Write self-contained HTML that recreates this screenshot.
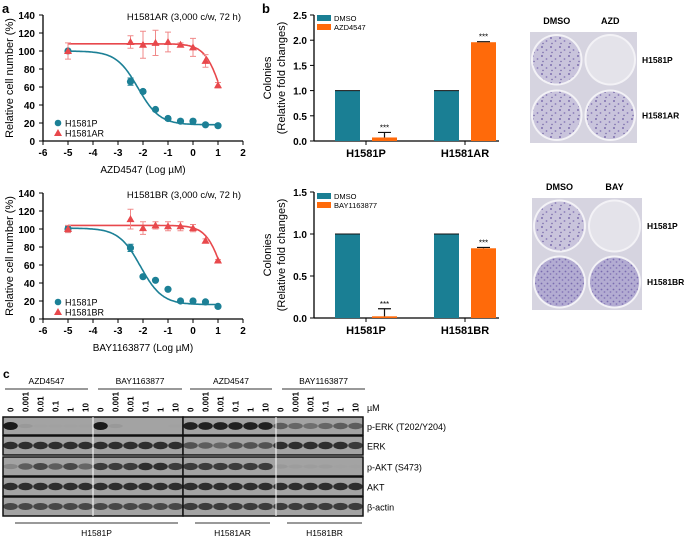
<!DOCTYPE html>
<html><head><meta charset="utf-8"><style>
html,body{margin:0;padding:0;background:#fff}
svg{display:block;font-family:"Liberation Sans",Arial,sans-serif}
</style></head><body>
<svg id="s" width="685" height="537" viewBox="0 0 685 537">
<defs>
<pattern id="spk" width="9" height="9" patternUnits="userSpaceOnUse">
<rect width="9" height="9" fill="#c9c4dc"/>
<circle cx="2" cy="2" r="1" fill="#7d6fae"/><circle cx="6.5" cy="5" r="0.9" fill="#8a7cb8"/><circle cx="3" cy="7.5" r="0.7" fill="#6e60a2"/>
</pattern>
<pattern id="spk2" width="6" height="6" patternUnits="userSpaceOnUse">
<rect width="6" height="6" fill="#b3acd2"/>
<circle cx="1.5" cy="1.5" r="0.9" fill="#7a6cb0"/><circle cx="4.5" cy="4" r="0.9" fill="#8778b8"/>
</pattern>
</defs>
<text x="2" y="13" font-size="13" font-weight="bold">a</text>
<text x="262" y="13" font-size="13" font-weight="bold">b</text>
<text x="3" y="378" font-size="12" font-weight="bold">c</text>
</svg>
<script>
const NS='http://www.w3.org/2000/svg';
const S=document.getElementById('s');
function mk(t,a,p){const e=document.createElementNS(NS,t);for(const k in a)e.setAttribute(k,a[k]);(p||S).appendChild(e);return e;}
function tx(x,y,s,a,p){const e=mk('text',Object.assign({x:x,y:y},a||{}),p);e.textContent=s;return e;}

// ---------- Panel a data ----------
const doseX=[-5,-2.5,-2,-1.5,-1,-0.5,0,0.5,1];
const aTopP=[100,66,55,35,25,22,22,18,17];
const aTopPErr=[2,4,2,1,2,1,2,1,1];
const aTopR=[100,110,107,109,110,107,104,89,62];
const aTopRErr=[9,7,15,14,11,2,10,7,3];
const aBotP=[100,79,47,43,33,20,20,19,14];
const aBotPErr=[3,4,1,1,1,2,2,1,1];
const aBotR=[100,111,101,104,103,103,101,87,65];
const aBotRErr=[4,11,7,4,5,5,4,2,1];
const xTicks=[-6,-5,-4,-3,-2,-1,0,1,2];
const yTicksA=[0,20,40,60,80,100,120,140];
// curve model params [top,bottom,logIC50,hill]
const fitTopP=[100,18,-2.2,1.0], fitTopR=[108,0,1.15,1.3];
const fitBotP=[101,16,-2.1,1.0], fitBotR=[104,0,1.2,1.3];

function lineChart(o){
  const g=mk('g',{});
  
  
  const X=v=>43+(v+6)*25, Y=v=>o.y0-v*o.ys;
  mk('line',{x1:43,y1:Y(0),x2:243,y2:Y(0),stroke:'#000','stroke-width':1.3},g);
  mk('line',{x1:43,y1:Y(0),x2:43,y2:Y(140),stroke:'#000','stroke-width':1.3},g);
  xTicks.forEach(t=>{mk('line',{x1:X(t),y1:Y(0),x2:X(t),y2:Y(0)+4,stroke:'#000'},g);
    const e=tx(X(t),Y(0)+15,String(t),{'font-size':10,'font-weight':'bold','text-anchor':'middle'},g);
    });
  yTicksA.forEach(t=>{mk('line',{x1:39,y1:Y(t),x2:43,y2:Y(t),stroke:'#000'},g);
    const e=tx(35,Y(t)+4,String(t),{'font-size':10,'font-weight':'bold','text-anchor':'end'},g);
    });
  const yl=tx(0,0,'Relative cell number (%)',{'font-size':11,'text-anchor':'middle',transform:`translate(13,${Y(70)}) rotate(-90)`},g);
  
  const xl=tx(143,Y(0)+32,o.xlabel,{'font-size':10,'text-anchor':'middle'},g);
  
  const tl=tx(241,Y(140)+5,o.title,{'font-size':9.5,'text-anchor':'end'},g);
  
  const series=[[o.p,o.pe,o.fp,'#1c8096','c'],[o.r,o.re,o.fr,'#e8484c','t']];
  series.forEach(([v,er,f,c,sh])=>{
    let d='';for(let x=-5;x<=1.001;x+=0.05){const y=f[1]+(f[0]-f[1])/(1+Math.pow(10,f[3]*(x-f[2])));d+=(d?'L':'M')+X(x).toFixed(1)+','+Y(y).toFixed(1);}
    const cu=mk('path',{d:d,fill:'none',stroke:c,'stroke-width':1.6},g);
    
    doseX.forEach((x,i)=>{
      const px=X(x),py=Y(v[i]),e=er[i]*o.ys;
      mk('path',{d:`M${px},${py-e}V${py+e}M${px-3},${py-e}h6M${px-3},${py+e}h6`,stroke:sh=='t'?'#f08a8a':c,'stroke-width':1,fill:'none'},g);
      let m;
      if(sh=='c')m=mk('circle',{cx:px,cy:py,r:3.6,fill:c},g);
      else m=mk('path',{d:`M${px},${py-4}L${px+4},${py+3}L${px-4},${py+3}Z`,fill:c},g);
      
    });
  });
  const l1=mk('circle',{cx:58,cy:o.ly,r:3.3,fill:'#1c8096'},g);
  
  tx(65,o.ly+3.5,'H1581P',{'font-size':9},g);
  const y2=o.ly+10;
  const l2=mk('path',{d:`M58,${y2-4}L62,${y2+3}L54,${y2+3}Z`,fill:'#e8484c'},g);
  
  tx(65,y2+3.5,o.rname,{'font-size':9},g);
}
lineChart({name:'chart-a-top',y0:141,ys:0.9,p:aTopP,pe:aTopPErr,r:aTopR,re:aTopRErr,fp:fitTopP,fr:fitTopR,xlabel:'AZD4547 (Log µM)',title:'H1581AR (3,000 c/w, 72 h)',ly:123,rname:'H1581AR'});
lineChart({name:'chart-a-bottom',y0:319,ys:0.9,p:aBotP,pe:aBotPErr,r:aBotR,re:aBotRErr,fp:fitBotP,fr:fitBotR,xlabel:'BAY1163877  (Log µM)',title:'H1581BR (3,000 c/w, 72 h)',ly:302,rname:'H1581BR'});

// ---------- Panel b data ----------
const bCatsTop=['H1581P','H1581AR'];
const bDmsoTop=[1.0,1.0];
const bDrugTop=[0.07,1.96];
const bDrugTopErr=[0.1,0.01];
const bTicksTop=['0.0','0.5','1.0','1.5','2.0','2.5'];
const bCatsBot=['H1581P','H1581BR'];
const bDmsoBot=[1.0,1.0];
const bDrugBot=[0.02,0.83];
const bDrugBotErr=[0.09,0.01];
const bTicksBot=['0.0','0.5','1.0','1.5'];

function barChart(o){
  const g=mk('g',{});
  
  const Y=v=>o.y0-v*o.ys;
  const top=Y(parseFloat(o.ticks[o.ticks.length-1]));
  mk('line',{x1:314,y1:Y(0),x2:499,y2:Y(0),stroke:'#000','stroke-width':1.3},g);
  mk('line',{x1:314,y1:Y(0),x2:314,y2:top,stroke:'#000','stroke-width':1.3},g);
  o.ticks.forEach(t=>{const v=parseFloat(t);mk('line',{x1:310,y1:Y(v),x2:314,y2:Y(v),stroke:'#000'},g);
    const e=tx(307,Y(v)+4,t,{'font-size':10,'font-weight':'bold','text-anchor':'end'},g);
    });
  const cy=(Y(0)+top)/2;
  const t1=tx(0,0,'Colonies',{'font-size':11,'text-anchor':'middle',transform:`translate(271,${cy}) rotate(-90)`},g);
  
  tx(0,0,'(Relative fold changes)',{'font-size':11,'text-anchor':'middle',transform:`translate(285,${cy}) rotate(-90)`},g);
  o.cats.forEach((c,i)=>{
    const cx=366+i*99;
    mk('line',{x1:cx,y1:Y(0),x2:cx,y2:Y(0)+4,stroke:'#000'},g);
    const e=tx(cx,Y(0)+16,c,{'font-size':11,'font-weight':'bold','text-anchor':'middle'},g);
    
    const b1=mk('rect',{x:cx-31,y:Y(o.d[i]),width:25,height:Y(0)-Y(o.d[i]),fill:'#1a7f94'},g);
    
    mk('line',{x1:cx-31,y1:Y(o.d[i]),x2:cx-6,y2:Y(o.d[i]),stroke:'#111','stroke-width':1},g);
    const b2=mk('rect',{x:cx+6,y:Y(o.v[i]),width:25,height:Y(0)-Y(o.v[i]),fill:'#ff6a0a'},g);
    
    const ey=Y(o.v[i]+o.e[i]);
    mk('path',{d:`M${cx+18.5},${Y(o.v[i])}V${ey}M${cx+12},${ey}h13`,stroke:'#111','stroke-width':1.2,fill:'none'},g);
    tx(cx+18.5,ey-2,'***',{'font-size':8,'text-anchor':'middle'},g);
  });
  const r1=mk('rect',{x:317,y:o.ly-4,width:14,height:6,fill:'#1a7f94'},g);
  
  tx(334,o.ly+2,'DMSO',{'font-size':7.5},g);
  const r2=mk('rect',{x:317,y:o.ly+5,width:14,height:6,fill:'#ff6a0a'},g);
  
  tx(334,o.ly+11,o.drug,{'font-size':7.5},g);
}
barChart({name:'chart-b-top',y0:141,ys:50.4,cats:bCatsTop,d:bDmsoTop,v:bDrugTop,e:bDrugTopErr,ticks:bTicksTop,ly:19,drug:'AZD4547'});
barChart({name:'chart-b-bottom',y0:318,ys:84,cats:bCatsBot,d:bDmsoBot,v:bDrugBot,e:bDrugBotErr,ticks:bTicksBot,ly:197,drug:'BAY1163877'});

// ---------- colony photos ----------
function photos(o){
  const g=mk('g',{});
  
  mk('rect',{x:o.x,y:o.y,width:o.w,height:o.h,fill:'#d6d4e0'},g);
  const cw=o.w/2,ch=o.h/2;
  o.fill.forEach((f,i)=>{
    const cx=o.x+cw*(i%2)+cw/2,cy=o.y+ch*Math.floor(i/2)+ch/2;
    mk('circle',{cx:cx,cy:cy,r:Math.min(cw,ch)/2-1,fill:'#f3f2f6'},g);
    const c=mk('circle',{cx:cx,cy:cy,r:Math.min(cw,ch)/2-3,fill:f},g);
    
  });
  tx(o.x+cw/2,o.y-8,'DMSO',{'font-size':9,'font-weight':'bold','text-anchor':'middle'},g);
  tx(o.x+cw*1.5,o.y-8,o.drug,{'font-size':9,'font-weight':'bold','text-anchor':'middle'},g);
  tx(o.x+o.w+5,o.y+ch/2+3,'H1581P',{'font-size':8.5,'font-weight':'bold'},g);
  tx(o.x+o.w+5,o.y+ch*1.5+3,o.r,{'font-size':8.5,'font-weight':'bold'},g);
}
photos({name:'colony-photos-top',x:530,y:32,w:107,h:111,drug:'AZD',r:'H1581AR',fill:['url(#spk)','#e4e3ea','url(#spk)','url(#spk)']});
photos({name:'colony-photos-bottom',x:532,y:198,w:110,h:112,drug:'BAY',r:'H1581BR',fill:['url(#spk)','#e4e3ea','url(#spk2)','url(#spk2)']});

// ---------- Panel c western blot ----------
const lanes=['0','0.001','0.01','0.1','1','10'];
const rows=['p-ERK (T202/Y204)','ERK','p-AKT (S473)','AKT','β-actin'];
const rowY=[417,436,457,477,497];
const rowH=[18,19,19,19,19];
// band intensity per row, 24 lanes (0..1)
const bandPERK=[1,.25,.1,.08,.08,.08,1,.25,.05,.05,.05,.08,.95,.95,.95,.95,.95,.95,.7,.65,.6,.65,.7,.7];
const bandERK=[.9,.9,.9,.9,.9,.9,.9,.9,.9,.9,.9,.9,.75,.7,.65,.75,.75,.75,.9,.9,.9,.9,.9,.85];
const bandPAKT=[.45,.7,.8,.7,.8,.65,.85,.85,.85,.9,.9,.85,.85,.85,.85,.85,.85,.85,.25,.2,.2,.2,.1,.1];
const bandAKT=[.9,.9,.9,.9,.9,.9,.9,.9,.9,.9,.9,.9,.9,.9,.9,.9,.9,.9,.9,.9,.9,.9,.9,.9];
const bandActin=[.8,.8,.8,.8,.8,.8,.8,.8,.8,.8,.8,.8,.85,.85,.85,.85,.85,.85,.85,.85,.85,.85,.85,.85];
const bands=[bandPERK,bandERK,bandPAKT,bandAKT,bandActin];
const bg=mk('g',{});

const laneX=i=>(i<12?3:183)+(i%12+0.5)*15;
rows.forEach((r,ri)=>{
  [3,183].forEach(x0=>{const b=mk('rect',{x:x0,y:rowY[ri],width:180,height:rowH[ri],fill:'#a3a3a3',stroke:'#111','stroke-width':1.5},bg);
    });
  bands[ri].forEach((v,i)=>{
    const e=mk('ellipse',{cx:laneX(i),cy:rowY[ri]+rowH[ri]/2,rx:7.3,ry:1.5+2.5*v,fill:'#1a1a1a','fill-opacity':Math.min(1,v*v*1.05).toFixed(2)},bg);
    
  });
  const l=tx(367,rowY[ri]+rowH[ri]/2+4,r,{'font-size':9},bg);
  
});
mk('line',{x1:93,y1:417,x2:93,y2:516,stroke:'#fff','stroke-width':1},bg);
mk('line',{x1:276,y1:417,x2:276,y2:516,stroke:'#fff','stroke-width':1},bg);
for(let i=0;i<24;i++){
  const e=tx(0,0,lanes[i%6],{'font-size':8,'font-weight':'bold','text-anchor':'start',transform:`translate(${laneX(i)+3},${412}) rotate(-90)`},bg);
  
}
tx(367,411,'µM',{'font-size':9},bg);
const groups=[['AZD4547',5,88],['BAY1163877',98,182],['AZD4547',190,272],['BAY1163877',282,365]];
groups.forEach(([n,a,b])=>{mk('line',{x1:a,y1:389,x2:b,y2:389,stroke:'#333','stroke-width':1},bg);
  const e=tx((a+b)/2,384,n,{'font-size':8.5,'text-anchor':'middle'},bg);
  });
const cells=[['H1581P',15,178],['H1581AR',195,270],['H1581BR',287,362]];
cells.forEach(([n,a,b])=>{mk('line',{x1:a,y1:523,x2:b,y2:523,stroke:'#333','stroke-width':1},bg);
  const e=tx((a+b)/2,536,n,{'font-size':8.5,'text-anchor':'middle'},bg);
  });
</script>
</body></html>
